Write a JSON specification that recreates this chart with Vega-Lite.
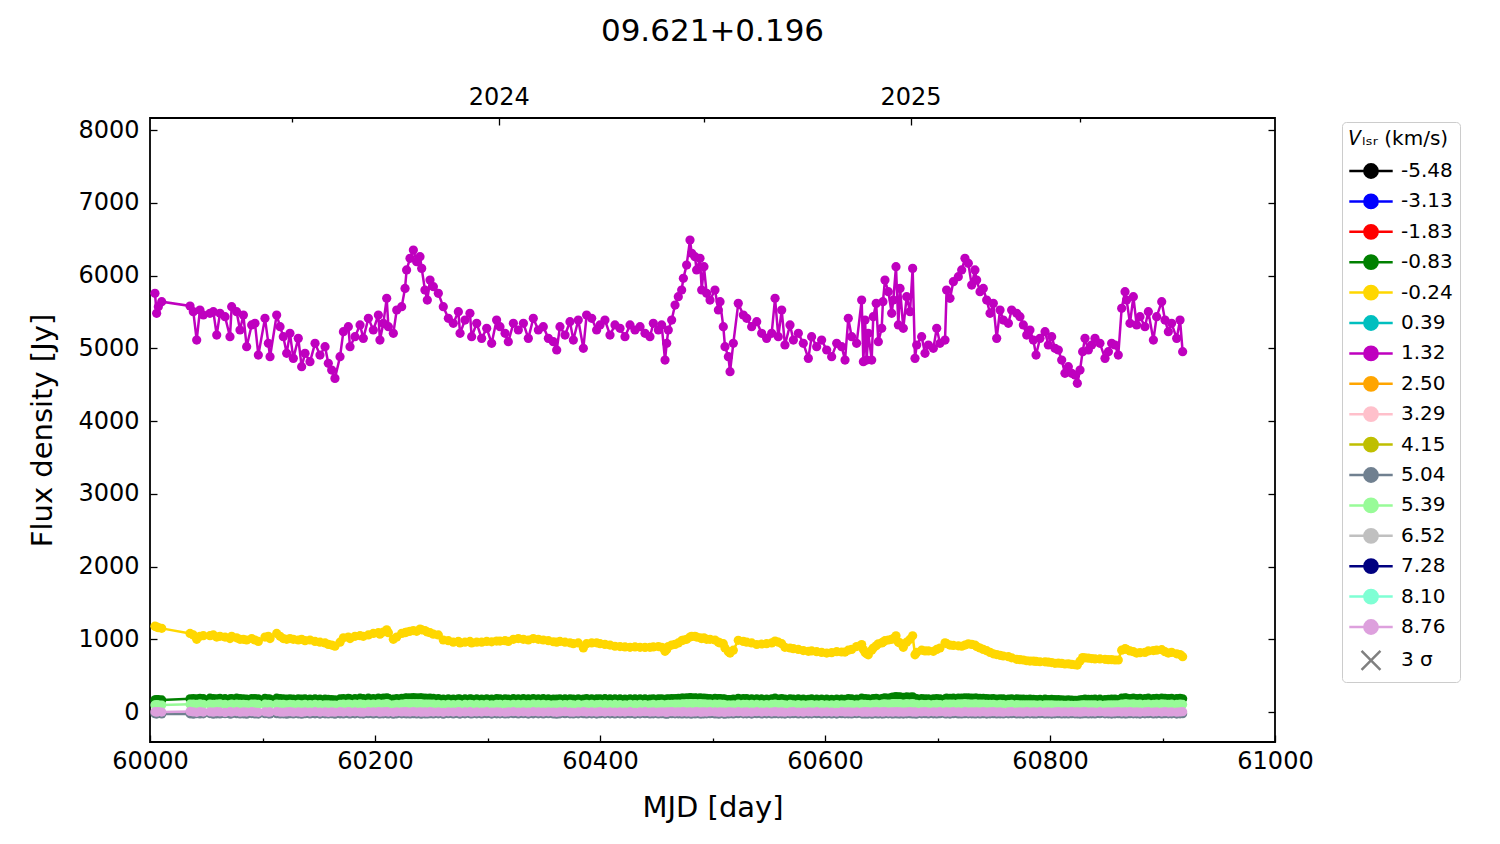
{
  "$schema": "https://vega.github.io/schema/vega-lite/v6.json",
  "width": 1125,
  "height": 624,
  "autosize": {"type": "none"},
  "padding": {"left": 150, "top": 118, "right": 225, "bottom": 102},
  "title": {"text": "09.621+0.196", "fontSize": 31, "font": "DejaVu Sans", "fontWeight": "normal", "color": "black", "offset": 37},
  "config": {
    "font": "DejaVu Sans",
    "view": {"stroke": "black", "strokeWidth": 1.8},
    "axis": {
      "domain": false, "grid": false, "tickColor": "black", "tickWidth": 1.3,
      "labelColor": "black", "labelFontSize": 24, "labelFlush": false, "labelOverlap": false, "labelBound": false,
      "titleFontSize": 29, "titleFontWeight": "normal", "titleColor": "black"
    }
  },
  "data": {"values": [
    {"t":60004.4,"g":5755,"e":1180,"d":168,"l":98,"p":4,"k":-22},
    {"t":60005.9,"g":5480,"e":1170,"d":172,"l":102,"p":-3,"k":-28},
    {"t":60007.4,"g":5571,"e":1160,"d":170,"l":100,"p":6,"k":-20},
    {"t":60010.4,"g":5640,"e":1150,"d":166,"l":96,"p":0,"k":-26},
    {"t":60035.6,"g":5581,"e":1080,"d":182,"l":108,"p":8,"k":-24},
    {"t":60038.5,"g":5503,"e":1060,"d":186,"l":110,"p":2,"k":-30},
    {"t":60041.5,"g":5113,"e":1000,"d":180,"l":104,"p":-4,"k":-22},
    {"t":60044.4,"g":5526,"e":1040,"d":188,"l":112,"p":6,"k":-27},
    {"t":60047.4,"g":5457,"e":1050,"d":184,"l":106,"p":0,"k":-25},
    {"t":60053.3,"g":5480,"e":1050,"d":190,"l":110,"p":3,"k":-21},
    {"t":60056.3,"g":5503,"e":1060,"d":186,"l":104,"p":-2,"k":-29},
    {"t":60059.3,"g":5182,"e":1030,"d":182,"l":108,"p":5,"k":-24},
    {"t":60062.2,"g":5480,"e":1040,"d":188,"l":112,"p":1,"k":-26},
    {"t":60066.7,"g":5434,"e":1030,"d":184,"l":106,"p":-5,"k":-23},
    {"t":60071.1,"g":5159,"e":1010,"d":180,"l":102,"p":4,"k":-28},
    {"t":60072.6,"g":5571,"e":1040,"d":186,"l":108,"p":0,"k":-25},
    {"t":60077.0,"g":5503,"e":1020,"d":190,"l":110,"p":6,"k":-22},
    {"t":60080.0,"g":5251,"e":1000,"d":184,"l":104,"p":-3,"k":-27},
    {"t":60083.0,"g":5457,"e":1000,"d":182,"l":106,"p":2,"k":-24},
    {"t":60085.9,"g":5022,"e":990,"d":178,"l":102,"p":-1,"k":-30},
    {"t":60090.4,"g":5320,"e":1010,"d":186,"l":108,"p":5,"k":-21},
    {"t":60093.3,"g":5343,"e":990,"d":184,"l":110,"p":0,"k":-26},
    {"t":60096.3,"g":4907,"e":970,"d":180,"l":104,"p":-4,"k":-28},
    {"t":60102.2,"g":5411,"e":1030,"d":188,"l":108,"p":3,"k":-23},
    {"t":60105.2,"g":5068,"e":1040,"d":182,"l":106,"p":-2,"k":-25},
    {"t":60106.7,"g":4884,"e":1010,"d":178,"l":102,"p":1,"k":-27},
    {"t":60112.6,"g":5457,"e":1080,"d":190,"l":110,"p":6,"k":-22},
    {"t":60115.6,"g":5297,"e":1040,"d":184,"l":106,"p":0,"k":-26},
    {"t":60118.5,"g":5159,"e":1010,"d":180,"l":104,"p":-3,"k":-24},
    {"t":60121.5,"g":4930,"e":1000,"d":176,"l":100,"p":2,"k":-29},
    {"t":60124.4,"g":5205,"e":1010,"d":182,"l":106,"p":4,"k":-23},
    {"t":60127.4,"g":4861,"e":1000,"d":178,"l":102,"p":-2,"k":-27},
    {"t":60131.8,"g":5136,"e":990,"d":182,"l":104,"p":1,"k":-25},
    {"t":60134.8,"g":4747,"e":1000,"d":176,"l":100,"p":-5,"k":-30},
    {"t":60137.8,"g":4930,"e":980,"d":180,"l":104,"p":3,"k":-22},
    {"t":60142.2,"g":4815,"e":990,"d":178,"l":102,"p":0,"k":-26},
    {"t":60146.7,"g":5068,"e":970,"d":182,"l":106,"p":5,"k":-24},
    {"t":60151.1,"g":4907,"e":960,"d":178,"l":102,"p":-2,"k":-28},
    {"t":60155.6,"g":5022,"e":950,"d":176,"l":100,"p":1,"k":-25},
    {"t":60158.5,"g":4793,"e":930,"d":174,"l":98,"p":-4,"k":-27},
    {"t":60161.5,"g":4701,"e":920,"d":170,"l":96,"p":2,"k":-23},
    {"t":60164.4,"g":4586,"e":905,"d":168,"l":94,"p":-3,"k":-29},
    {"t":60168.9,"g":4884,"e":960,"d":180,"l":104,"p":4,"k":-24},
    {"t":60171.9,"g":5228,"e":1020,"d":186,"l":108,"p":0,"k":-26},
    {"t":60176.3,"g":5297,"e":1030,"d":188,"l":110,"p":6,"k":-22},
    {"t":60177.8,"g":5022,"e":1010,"d":182,"l":106,"p":-1,"k":-27},
    {"t":60182.2,"g":5159,"e":1040,"d":186,"l":108,"p":3,"k":-24},
    {"t":60186.7,"g":5320,"e":1050,"d":190,"l":112,"p":0,"k":-25},
    {"t":60189.6,"g":5136,"e":1040,"d":184,"l":106,"p":-3,"k":-28},
    {"t":60194.1,"g":5411,"e":1060,"d":190,"l":110,"p":5,"k":-22},
    {"t":60198.5,"g":5251,"e":1080,"d":186,"l":108,"p":1,"k":-26},
    {"t":60203.0,"g":5457,"e":1090,"d":192,"l":112,"p":4,"k":-23},
    {"t":60204.4,"g":5113,"e":1070,"d":186,"l":106,"p":-2,"k":-27},
    {"t":60207.4,"g":5343,"e":1100,"d":190,"l":110,"p":2,"k":-24},
    {"t":60210.4,"g":5686,"e":1130,"d":196,"l":114,"p":6,"k":-21},
    {"t":60211.9,"g":5297,"e":1090,"d":188,"l":108,"p":0,"k":-26},
    {"t":60216.3,"g":5205,"e":1000,"d":176,"l":100,"p":-4,"k":-29},
    {"t":60219.3,"g":5526,"e":1030,"d":184,"l":106,"p":3,"k":-24},
    {"t":60223.7,"g":5571,"e":1080,"d":188,"l":110,"p":1,"k":-25},
    {"t":60226.7,"g":5823,"e":1090,"d":192,"l":112,"p":5,"k":-22},
    {"t":60228.1,"g":6076,"e":1100,"d":194,"l":114,"p":2,"k":-24},
    {"t":60231.1,"g":6236,"e":1110,"d":196,"l":116,"p":-1,"k":-27},
    {"t":60234.1,"g":6350,"e":1120,"d":198,"l":116,"p":4,"k":-23},
    {"t":60237.0,"g":6190,"e":1110,"d":194,"l":114,"p":0,"k":-26},
    {"t":60240.0,"g":6259,"e":1140,"d":196,"l":116,"p":3,"k":-24},
    {"t":60241.5,"g":6098,"e":1130,"d":194,"l":112,"p":-2,"k":-28},
    {"t":60244.4,"g":5801,"e":1120,"d":190,"l":110,"p":1,"k":-25},
    {"t":60246.5,"g":5663,"e":1100,"d":188,"l":108,"p":-3,"k":-27},
    {"t":60248.9,"g":5938,"e":1090,"d":190,"l":110,"p":4,"k":-23},
    {"t":60251.9,"g":5846,"e":1070,"d":188,"l":108,"p":0,"k":-26},
    {"t":60256.3,"g":5755,"e":1060,"d":186,"l":106,"p":2,"k":-24},
    {"t":60260.7,"g":5571,"e":990,"d":178,"l":102,"p":-4,"k":-29},
    {"t":60265.2,"g":5411,"e":980,"d":180,"l":104,"p":3,"k":-23},
    {"t":60269.6,"g":5343,"e":960,"d":178,"l":102,"p":0,"k":-26},
    {"t":60274.1,"g":5503,"e":970,"d":182,"l":104,"p":5,"k":-22},
    {"t":60275.6,"g":5205,"e":950,"d":176,"l":100,"p":-2,"k":-28},
    {"t":60280.0,"g":5388,"e":960,"d":180,"l":104,"p":1,"k":-25},
    {"t":60284.4,"g":5480,"e":970,"d":182,"l":106,"p":4,"k":-23},
    {"t":60285.9,"g":5159,"e":950,"d":178,"l":102,"p":-3,"k":-27},
    {"t":60290.4,"g":5343,"e":960,"d":180,"l":104,"p":2,"k":-24},
    {"t":60294.8,"g":5136,"e":960,"d":178,"l":102,"p":0,"k":-26},
    {"t":60299.3,"g":5274,"e":970,"d":182,"l":104,"p":5,"k":-22},
    {"t":60303.7,"g":5068,"e":965,"d":178,"l":100,"p":-2,"k":-28},
    {"t":60308.1,"g":5388,"e":975,"d":184,"l":106,"p":3,"k":-24},
    {"t":60311.1,"g":5297,"e":975,"d":182,"l":104,"p":0,"k":-25},
    {"t":60315.6,"g":5205,"e":980,"d":180,"l":104,"p":-3,"k":-27},
    {"t":60318.5,"g":5090,"e":970,"d":178,"l":102,"p":2,"k":-24},
    {"t":60323.0,"g":5343,"e":1000,"d":184,"l":106,"p":5,"k":-22},
    {"t":60327.4,"g":5251,"e":1010,"d":182,"l":104,"p":0,"k":-26},
    {"t":60331.9,"g":5343,"e":1000,"d":184,"l":106,"p":3,"k":-23},
    {"t":60336.3,"g":5136,"e":990,"d":180,"l":102,"p":-2,"k":-28},
    {"t":60340.7,"g":5411,"e":1010,"d":186,"l":108,"p":4,"k":-24},
    {"t":60345.2,"g":5251,"e":1000,"d":182,"l":104,"p":1,"k":-25},
    {"t":60349.6,"g":5297,"e":990,"d":184,"l":106,"p":-1,"k":-27},
    {"t":60354.1,"g":5136,"e":980,"d":180,"l":102,"p":3,"k":-23},
    {"t":60358.5,"g":5090,"e":966,"d":178,"l":100,"p":0,"k":-26},
    {"t":60361.5,"g":4976,"e":960,"d":176,"l":100,"p":-4,"k":-29},
    {"t":60364.4,"g":5297,"e":970,"d":182,"l":104,"p":2,"k":-24},
    {"t":60368.9,"g":5182,"e":960,"d":180,"l":102,"p":5,"k":-22},
    {"t":60373.3,"g":5365,"e":952,"d":182,"l":104,"p":0,"k":-25},
    {"t":60376.3,"g":5113,"e":940,"d":178,"l":100,"p":-3,"k":-27},
    {"t":60380.7,"g":5388,"e":950,"d":182,"l":104,"p":1,"k":-24},
    {"t":60385.2,"g":4999,"e":881,"d":176,"l":98,"p":4,"k":-23},
    {"t":60388.1,"g":5457,"e":940,"d":184,"l":106,"p":0,"k":-26},
    {"t":60392.6,"g":5411,"e":950,"d":182,"l":104,"p":2,"k":-24},
    {"t":60397.0,"g":5251,"e":952,"d":180,"l":102,"p":-2,"k":-28},
    {"t":60400.0,"g":5320,"e":940,"d":182,"l":104,"p":5,"k":-22},
    {"t":60404.4,"g":5388,"e":930,"d":184,"l":106,"p":0,"k":-25},
    {"t":60408.9,"g":5182,"e":920,"d":180,"l":102,"p":3,"k":-24},
    {"t":60413.3,"g":5320,"e":904,"d":182,"l":104,"p":-1,"k":-27},
    {"t":60417.8,"g":5274,"e":900,"d":180,"l":102,"p":2,"k":-24},
    {"t":60422.2,"g":5159,"e":895,"d":178,"l":100,"p":0,"k":-26},
    {"t":60426.7,"g":5320,"e":890,"d":182,"l":104,"p":4,"k":-23},
    {"t":60431.1,"g":5251,"e":895,"d":180,"l":102,"p":-3,"k":-28},
    {"t":60435.6,"g":5297,"e":890,"d":182,"l":104,"p":1,"k":-25},
    {"t":60440.0,"g":5205,"e":888,"d":180,"l":102,"p":5,"k":-22},
    {"t":60444.4,"g":5159,"e":890,"d":178,"l":100,"p":0,"k":-26},
    {"t":60447.4,"g":5343,"e":895,"d":182,"l":104,"p":2,"k":-24},
    {"t":60451.9,"g":5251,"e":900,"d":180,"l":102,"p":-2,"k":-27},
    {"t":60454.8,"g":5320,"e":890,"d":182,"l":104,"p":3,"k":-23},
    {"t":60457.8,"g":4838,"e":834,"d":174,"l":96,"p":0,"k":-26},
    {"t":60459.3,"g":5068,"e":860,"d":178,"l":100,"p":-4,"k":-29},
    {"t":60460.7,"g":5251,"e":900,"d":182,"l":104,"p":2,"k":-24},
    {"t":60463.7,"g":5388,"e":920,"d":184,"l":106,"p":5,"k":-22},
    {"t":60466.7,"g":5594,"e":930,"d":186,"l":108,"p":0,"k":-25},
    {"t":60469.6,"g":5709,"e":950,"d":188,"l":110,"p":3,"k":-24},
    {"t":60472.6,"g":5801,"e":980,"d":190,"l":110,"p":-1,"k":-27},
    {"t":60474.1,"g":5961,"e":990,"d":192,"l":112,"p":4,"k":-23},
    {"t":60477.0,"g":6144,"e":1000,"d":194,"l":114,"p":0,"k":-26},
    {"t":60480.0,"g":6488,"e":1030,"d":198,"l":116,"p":2,"k":-24},
    {"t":60481.5,"g":6305,"e":1040,"d":196,"l":114,"p":-3,"k":-28},
    {"t":60484.4,"g":6259,"e":1040,"d":194,"l":114,"p":1,"k":-25},
    {"t":60485.9,"g":6076,"e":1030,"d":192,"l":112,"p":4,"k":-23},
    {"t":60488.9,"g":6236,"e":1020,"d":194,"l":114,"p":0,"k":-26},
    {"t":60490.4,"g":5801,"e":1010,"d":188,"l":110,"p":-2,"k":-27},
    {"t":60492.4,"g":6121,"e":1020,"d":192,"l":112,"p":3,"k":-24},
    {"t":60494.8,"g":5755,"e":1000,"d":188,"l":110,"p":0,"k":-25},
    {"t":60497.8,"g":5663,"e":1000,"d":186,"l":108,"p":5,"k":-22},
    {"t":60502.2,"g":5801,"e":990,"d":188,"l":110,"p":1,"k":-26},
    {"t":60505.2,"g":5526,"e":960,"d":184,"l":106,"p":-3,"k":-28},
    {"t":60506.7,"g":5640,"e":950,"d":186,"l":108,"p":2,"k":-24},
    {"t":60509.6,"g":5297,"e":940,"d":180,"l":104,"p":0,"k":-25},
    {"t":60511.1,"g":5022,"e":880,"d":176,"l":100,"p":-4,"k":-29},
    {"t":60514.1,"g":4884,"e":830,"d":172,"l":96,"p":1,"k":-24},
    {"t":60515.6,"g":4678,"e":811,"d":170,"l":94,"p":3,"k":-23},
    {"t":60518.5,"g":5068,"e":850,"d":176,"l":100,"p":-1,"k":-27},
    {"t":60522.9,"g":5617,"e":985,"d":188,"l":108,"p":4,"k":-23},
    {"t":60527.4,"g":5457,"e":970,"d":186,"l":106,"p":0,"k":-25},
    {"t":60530.4,"g":5411,"e":960,"d":184,"l":106,"p":2,"k":-24},
    {"t":60534.8,"g":5297,"e":950,"d":182,"l":104,"p":-2,"k":-28},
    {"t":60539.3,"g":5365,"e":928,"d":182,"l":104,"p":5,"k":-22},
    {"t":60543.7,"g":5205,"e":935,"d":180,"l":102,"p":0,"k":-26},
    {"t":60548.1,"g":5136,"e":940,"d":178,"l":102,"p":3,"k":-24},
    {"t":60552.6,"g":5205,"e":950,"d":180,"l":104,"p":-1,"k":-27},
    {"t":60555.6,"g":5686,"e":975,"d":190,"l":110,"p":4,"k":-23},
    {"t":60558.5,"g":5159,"e":960,"d":178,"l":102,"p":0,"k":-25},
    {"t":60561.5,"g":5526,"e":940,"d":186,"l":106,"p":2,"k":-24},
    {"t":60564.4,"g":5045,"e":890,"d":176,"l":100,"p":-3,"k":-28},
    {"t":60568.9,"g":5320,"e":880,"d":182,"l":104,"p":1,"k":-25},
    {"t":60571.9,"g":5113,"e":870,"d":178,"l":100,"p":4,"k":-23},
    {"t":60576.3,"g":5205,"e":860,"d":180,"l":102,"p":0,"k":-26},
    {"t":60580.7,"g":5068,"e":845,"d":178,"l":100,"p":-2,"k":-27},
    {"t":60585.2,"g":4861,"e":835,"d":174,"l":98,"p":3,"k":-24},
    {"t":60588.1,"g":5159,"e":840,"d":180,"l":102,"p":0,"k":-25},
    {"t":60592.6,"g":5022,"e":830,"d":176,"l":100,"p":5,"k":-22},
    {"t":60597.0,"g":5113,"e":820,"d":178,"l":102,"p":-1,"k":-27},
    {"t":60601.5,"g":4976,"e":811,"d":176,"l":100,"p":2,"k":-24},
    {"t":60605.9,"g":4884,"e":815,"d":174,"l":98,"p":0,"k":-26},
    {"t":60610.4,"g":5068,"e":830,"d":178,"l":102,"p":-3,"k":-28},
    {"t":60614.8,"g":5022,"e":825,"d":176,"l":100,"p":4,"k":-23},
    {"t":60617.8,"g":4838,"e":824,"d":174,"l":96,"p":0,"k":-25},
    {"t":60620.7,"g":5411,"e":850,"d":184,"l":106,"p":2,"k":-24},
    {"t":60623.7,"g":5159,"e":860,"d":180,"l":102,"p":-2,"k":-27},
    {"t":60628.1,"g":5068,"e":900,"d":178,"l":100,"p":3,"k":-23},
    {"t":60632.6,"g":5663,"e":928,"d":190,"l":110,"p":0,"k":-25},
    {"t":60634.1,"g":4815,"e":860,"d":174,"l":96,"p":-1,"k":-27},
    {"t":60635.6,"g":5388,"e":820,"d":184,"l":106,"p":4,"k":-23},
    {"t":60637.0,"g":4838,"e":800,"d":174,"l":98,"p":0,"k":-26},
    {"t":60638.5,"g":5205,"e":787,"d":180,"l":102,"p":2,"k":-24},
    {"t":60641.5,"g":4838,"e":850,"d":174,"l":96,"p":-3,"k":-28},
    {"t":60642.9,"g":5434,"e":880,"d":184,"l":106,"p":1,"k":-25},
    {"t":60645.5,"g":5617,"e":910,"d":188,"l":108,"p":5,"k":-22},
    {"t":60647.4,"g":5090,"e":937,"d":178,"l":100,"p":0,"k":-26},
    {"t":60650.4,"g":5274,"e":950,"d":182,"l":104,"p":3,"k":-24},
    {"t":60651.5,"g":5640,"e":960,"d":188,"l":108,"p":-2,"k":-27},
    {"t":60653.3,"g":5938,"e":980,"d":194,"l":112,"p":4,"k":-23},
    {"t":60656.3,"g":5778,"e":990,"d":192,"l":110,"p":0,"k":-25},
    {"t":60659.3,"g":5480,"e":1000,"d":200,"l":112,"p":2,"k":-24},
    {"t":60660.7,"g":5663,"e":1010,"d":204,"l":114,"p":-1,"k":-27},
    {"t":60663.1,"g":6121,"e":1047,"d":212,"l":116,"p":5,"k":-22},
    {"t":60665.2,"g":5320,"e":960,"d":204,"l":112,"p":0,"k":-26},
    {"t":60666.7,"g":5823,"e":950,"d":210,"l":114,"p":3,"k":-24},
    {"t":60669.6,"g":5274,"e":890,"d":202,"l":110,"p":-2,"k":-28},
    {"t":60672.6,"g":5709,"e":960,"d":208,"l":114,"p":1,"k":-25},
    {"t":60675.6,"g":5503,"e":1000,"d":204,"l":112,"p":4,"k":-23},
    {"t":60677.9,"g":6098,"e":1047,"d":210,"l":116,"p":0,"k":-26},
    {"t":60680.0,"g":4861,"e":787,"d":186,"l":104,"p":2,"k":-24},
    {"t":60681.5,"g":5045,"e":820,"d":184,"l":104,"p":-3,"k":-28},
    {"t":60685.9,"g":5159,"e":850,"d":186,"l":106,"p":1,"k":-25},
    {"t":60688.9,"g":4930,"e":840,"d":180,"l":102,"p":5,"k":-22},
    {"t":60691.9,"g":5045,"e":840,"d":182,"l":104,"p":0,"k":-26},
    {"t":60696.3,"g":4999,"e":834,"d":180,"l":102,"p":3,"k":-24},
    {"t":60699.3,"g":5274,"e":860,"d":184,"l":106,"p":-1,"k":-27},
    {"t":60702.2,"g":5068,"e":880,"d":180,"l":102,"p":4,"k":-23},
    {"t":60706.7,"g":5113,"e":952,"d":182,"l":104,"p":0,"k":-25},
    {"t":60708.1,"g":5801,"e":940,"d":190,"l":110,"p":2,"k":-24},
    {"t":60711.1,"g":5686,"e":920,"d":188,"l":108,"p":-2,"k":-28},
    {"t":60714.1,"g":5915,"e":915,"d":190,"l":110,"p":5,"k":-22},
    {"t":60718.5,"g":5984,"e":910,"d":192,"l":112,"p":1,"k":-26},
    {"t":60721.5,"g":6076,"e":904,"d":192,"l":112,"p":-3,"k":-27},
    {"t":60724.4,"g":6236,"e":920,"d":194,"l":114,"p":4,"k":-23},
    {"t":60727.4,"g":6167,"e":937,"d":194,"l":112,"p":0,"k":-25},
    {"t":60730.4,"g":5869,"e":930,"d":190,"l":110,"p":2,"k":-24},
    {"t":60733.3,"g":6076,"e":920,"d":192,"l":112,"p":-1,"k":-27},
    {"t":60734.8,"g":5938,"e":900,"d":190,"l":110,"p":3,"k":-23},
    {"t":60737.8,"g":5778,"e":880,"d":188,"l":108,"p":0,"k":-26},
    {"t":60740.7,"g":5823,"e":860,"d":188,"l":108,"p":5,"k":-22},
    {"t":60743.7,"g":5663,"e":843,"d":186,"l":106,"p":-2,"k":-28},
    {"t":60746.7,"g":5480,"e":820,"d":182,"l":104,"p":1,"k":-25},
    {"t":60749.6,"g":5617,"e":800,"d":184,"l":106,"p":4,"k":-23},
    {"t":60752.6,"g":5136,"e":790,"d":176,"l":100,"p":0,"k":-26},
    {"t":60755.6,"g":5526,"e":780,"d":182,"l":104,"p":2,"k":-24},
    {"t":60758.5,"g":5388,"e":770,"d":180,"l":102,"p":-3,"k":-27},
    {"t":60763.0,"g":5343,"e":760,"d":178,"l":102,"p":1,"k":-25},
    {"t":60765.9,"g":5526,"e":745,"d":182,"l":104,"p":4,"k":-23},
    {"t":60770.4,"g":5480,"e":725,"d":180,"l":102,"p":0,"k":-26},
    {"t":60773.3,"g":5434,"e":720,"d":178,"l":100,"p":2,"k":-24},
    {"t":60776.3,"g":5320,"e":715,"d":176,"l":100,"p":-2,"k":-28},
    {"t":60779.3,"g":5182,"e":705,"d":174,"l":98,"p":5,"k":-22},
    {"t":60782.2,"g":5251,"e":700,"d":176,"l":100,"p":0,"k":-25},
    {"t":60785.2,"g":5113,"e":700,"d":174,"l":98,"p":3,"k":-24},
    {"t":60787.6,"g":4907,"e":695,"d":170,"l":96,"p":-1,"k":-27},
    {"t":60791.1,"g":5136,"e":691,"d":174,"l":98,"p":4,"k":-23},
    {"t":60795.6,"g":5228,"e":690,"d":176,"l":100,"p":0,"k":-26},
    {"t":60798.5,"g":5045,"e":685,"d":172,"l":98,"p":2,"k":-24},
    {"t":60801.5,"g":5159,"e":680,"d":174,"l":98,"p":-3,"k":-28},
    {"t":60804.4,"g":4999,"e":670,"d":170,"l":96,"p":1,"k":-25},
    {"t":60807.4,"g":4976,"e":672,"d":170,"l":96,"p":5,"k":-22},
    {"t":60810.4,"g":4838,"e":668,"d":168,"l":94,"p":0,"k":-26},
    {"t":60813.3,"g":4655,"e":660,"d":164,"l":92,"p":3,"k":-24},
    {"t":60816.3,"g":4747,"e":662,"d":166,"l":94,"p":-1,"k":-27},
    {"t":60819.3,"g":4655,"e":655,"d":164,"l":92,"p":4,"k":-23},
    {"t":60822.2,"g":4632,"e":650,"d":162,"l":92,"p":0,"k":-25},
    {"t":60824.3,"g":4518,"e":645,"d":160,"l":90,"p":2,"k":-24},
    {"t":60826.7,"g":4701,"e":700,"d":166,"l":94,"p":-2,"k":-28},
    {"t":60829.0,"g":4953,"e":749,"d":172,"l":98,"p":1,"k":-25},
    {"t":60831.1,"g":5136,"e":745,"d":176,"l":100,"p":5,"k":-22},
    {"t":60834.1,"g":4976,"e":740,"d":174,"l":98,"p":0,"k":-26},
    {"t":60837.0,"g":5045,"e":735,"d":174,"l":100,"p":3,"k":-24},
    {"t":60840.0,"g":5136,"e":730,"d":176,"l":100,"p":-1,"k":-27},
    {"t":60844.4,"g":5068,"e":730,"d":176,"l":100,"p":4,"k":-23},
    {"t":60848.9,"g":4861,"e":725,"d":172,"l":96,"p":0,"k":-25},
    {"t":60851.9,"g":4953,"e":720,"d":174,"l":98,"p":2,"k":-24},
    {"t":60854.8,"g":5068,"e":720,"d":176,"l":100,"p":-2,"k":-28},
    {"t":60857.8,"g":5045,"e":715,"d":176,"l":100,"p":1,"k":-25},
    {"t":60860.7,"g":4907,"e":715,"d":172,"l":98,"p":5,"k":-22},
    {"t":60863.7,"g":5549,"e":850,"d":190,"l":110,"p":0,"k":-26},
    {"t":60866.7,"g":5778,"e":871,"d":194,"l":112,"p":3,"k":-24},
    {"t":60868.1,"g":5663,"e":860,"d":192,"l":112,"p":-1,"k":-27},
    {"t":60871.1,"g":5343,"e":840,"d":186,"l":108,"p":4,"k":-23},
    {"t":60874.1,"g":5709,"e":830,"d":192,"l":112,"p":0,"k":-25},
    {"t":60877.0,"g":5320,"e":811,"d":186,"l":106,"p":2,"k":-24},
    {"t":60880.0,"g":5434,"e":815,"d":188,"l":108,"p":-2,"k":-28},
    {"t":60884.4,"g":5297,"e":820,"d":186,"l":106,"p":1,"k":-25},
    {"t":60887.4,"g":5503,"e":840,"d":190,"l":110,"p":5,"k":-22},
    {"t":60891.9,"g":5113,"e":845,"d":184,"l":106,"p":0,"k":-26},
    {"t":60894.8,"g":5434,"e":850,"d":188,"l":108,"p":3,"k":-24},
    {"t":60899.3,"g":5640,"e":857,"d":192,"l":112,"p":-1,"k":-27},
    {"t":60902.2,"g":5388,"e":830,"d":188,"l":108,"p":4,"k":-23},
    {"t":60905.2,"g":5228,"e":810,"d":186,"l":106,"p":0,"k":-25},
    {"t":60908.1,"g":5343,"e":820,"d":188,"l":108,"p":2,"k":-24},
    {"t":60912.6,"g":5136,"e":800,"d":184,"l":104,"p":-2,"k":-28},
    {"t":60915.6,"g":5388,"e":790,"d":188,"l":108,"p":1,"k":-25},
    {"t":60917.9,"g":4953,"e":760,"d":182,"l":104,"p":5,"k":-22}
  ]},
  "transform": [{"fold": ["d", "e", "g", "k", "l", "p"], "as": ["ch", "flux"]}],
  "layer": [
    {
      "mark": {"type": "line", "strokeWidth": 2.5},
      "encoding": {
        "x": {"field": "t", "type": "quantitative", "scale": {"domain": [60000, 61000], "nice": false, "zero": false},
          "axis": {"orient": "bottom", "values": [60000, 60200, 60400, 60600, 60800, 61000], "format": "d", "tickSize": -7, "labelPadding": 14, "title": "MJD [day]", "titlePadding": 20}},
        "y": {"field": "flux", "type": "quantitative", "scale": {"domain": [-412, 8165], "nice": false, "zero": false},
          "axis": {"orient": "left", "values": [0, 1000, 2000, 3000, 4000, 5000, 6000, 7000, 8000], "format": "d", "tickSize": -7, "labelPadding": 18, "title": "Flux density [Jy]", "titlePadding": 20}},
        "color": {
          "field": "ch", "type": "nominal",
          "scale": {
            "domain": ["a", "b", "c", "d", "e", "f", "g", "h", "i", "j", "k", "l", "m", "n", "o", "p", "z"],
            "range": ["#000000", "#0000ff", "#ff0000", "#008000", "#ffd700", "#00bfbf", "#bf00bf", "#ffa500", "#ffc0cb", "#bfbf00", "#708090", "#98fb98", "#c0c0c0", "#000080", "#7fffd4", "#dda0dd", "#808080"]
          },
          "legend": {
            "title": "𝑉ₗₛᵣ (km/s)",
            "orient": "none", "legendX": 1192, "legendY": 4,
            "titleFontSize": 20, "titleFontWeight": "normal", "titleColor": "black", "titlePadding": 12,
            "labelFontSize": 20, "labelColor": "black",
            "labelExpr": "['-5.48','-3.13','-1.83','-0.83','-0.24','0.39','1.32','2.50','3.29','4.15','5.04','5.39','6.52','7.28','8.10','8.76','3 σ'][indexof('abcdefghijklmnopz', datum.value)]",
            "symbolSize": 196, "symbolStrokeWidth": 2.5, "symbolOffset": 12, "labelOffset": 20, "rowPadding": 6.4,
            "padding": 7, "strokeColor": "#cccccc", "fillColor": "white", "cornerRadius": 4,
            "symbolType": "M-3.1,0H3.1M-0.95,0A0.95,0.95,0,1,1,0.95,0A0.95,0.95,0,1,1,-0.95,0Z",
            "encode": {"symbols": {"update": {
              "shape": {"signal": "datum.value === 'z' ? 'M-1.35,-1.35L1.35,1.35M-1.35,1.35L1.35,-1.35' : 'M-3.1,0H3.1M-0.95,0A0.95,0.95,0,1,1,0.95,0A0.95,0.95,0,1,1,-0.95,0Z'"},
              "fill": {"scale": "color", "field": "value"},
              "stroke": {"scale": "color", "field": "value"},
              "strokeWidth": {"value": 2.5},
              "opacity": {"value": 1}
            }}}
          }
        }
      }
    },
    {
      "mark": {"type": "point", "filled": true, "size": 85, "opacity": 1},
      "encoding": {
        "x": {"field": "t", "type": "quantitative", "scale": {"domain": [60000, 61000], "nice": false, "zero": false},
          "axis": {"orient": "bottom", "values": [60100, 60300, 60500, 60700, 60900], "tickSize": -4, "labels": false, "title": null}},
        "y": {"field": "flux", "type": "quantitative", "scale": {"domain": [-412, 8165], "nice": false, "zero": false},
          "axis": {"orient": "right", "values": [0, 1000, 2000, 3000, 4000, 5000, 6000, 7000, 8000], "tickSize": -7, "labels": false, "title": null}},
        "color": {"field": "ch", "type": "nominal", "legend": null},
        "order": {"field": "ch", "type": "ordinal"}
      }
    },
    {
      "mark": {"type": "point", "opacity": 0},
      "encoding": {
        "x": {"field": "t", "type": "quantitative", "scale": {"domain": [60000, 61000], "nice": false, "zero": false},
          "axis": {"orient": "top", "values": [60310, 60676], "labelExpr": "datum.value < 60500 ? '2024' : '2025'", "tickSize": -7, "labelPadding": 16, "title": null}},
        "y": {"field": "flux", "type": "quantitative", "scale": {"domain": [-412, 8165], "nice": false, "zero": false}, "axis": null}
      }
    },
    {
      "mark": {"type": "point", "opacity": 0},
      "encoding": {
        "x": {"field": "t", "type": "quantitative", "scale": {"domain": [60000, 61000], "nice": false, "zero": false},
          "axis": {"orient": "top", "values": [60126, 60492, 60827], "tickSize": -4, "labels": false, "title": null}},
        "y": {"field": "flux", "type": "quantitative", "scale": {"domain": [-412, 8165], "nice": false, "zero": false}, "axis": null}
      }
    }
  ],
  "resolve": {"axis": {"x": "independent", "y": "independent"}}
}
